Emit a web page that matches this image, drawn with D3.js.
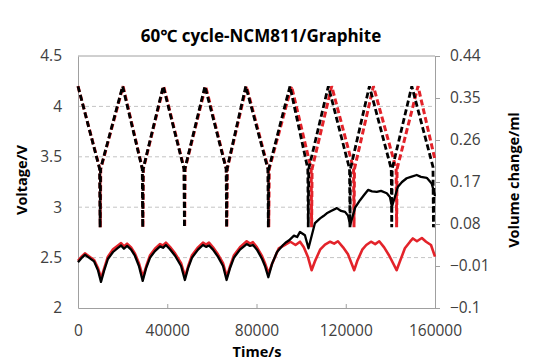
<!DOCTYPE html>
<html>
<head>
<meta charset="utf-8">
<script src="https://cdn.jsdelivr.net/npm/d3@7"></script>
<style>
    body { margin: 0; background: #fff; }
    text { font-family: "Open Sans", "Noto Sans", sans-serif; }
</style>
</head>
<body>
<svg width="535" height="363"></svg>
<script>
    // voltage (left axis), [time s, V]
    var voltBlack = [
        [0, 4.2], [9700, 3.38], [9900, 2.8], [10100, 3.38],
        [20000, 4.2], [28800, 3.38], [29000, 2.8], [29200, 3.38],
        [38200, 4.2], [47500, 3.38], [47700, 2.8], [47900, 3.38],
        [56900, 4.2], [66400, 3.38], [66600, 2.8], [66800, 3.38],
        [75200, 4.2], [85100, 3.38], [85300, 2.8], [85500, 3.38],
        [95000, 4.2], [103000, 3.38], [103200, 2.8], [103400, 3.38],
        [112200, 4.2], [121700, 3.38], [121900, 2.8], [122100, 3.38],
        [130600, 4.2], [140400, 3.38], [140600, 2.8], [140800, 3.38],
        [149600, 4.2], [159100, 3.4], [159300, 2.8], [159500, 3.2]
    ];
    var voltRed = [
        [0, 4.2], [9800, 3.38], [10000, 2.8], [10200, 3.38],
        [20200, 4.2], [28900, 3.38], [29100, 2.8], [29300, 3.38],
        [38400, 4.2], [47600, 3.38], [47800, 2.8], [48000, 3.38],
        [57200, 4.2], [66500, 3.38], [66700, 2.8], [66900, 3.38],
        [75500, 4.2], [85300, 3.38], [85500, 2.8], [85700, 3.38],
        [95700, 4.2], [104500, 3.38], [104700, 2.8], [104900, 3.38],
        [113700, 4.2], [123500, 3.38], [123700, 2.8], [123900, 3.38],
        [132400, 4.2], [142600, 3.38], [142800, 2.8], [143000, 3.38],
        [152400, 4.2], [160000, 3.47]
    ];

    // volume change (right axis), [time s, ml]
    var volBlack = [
        [0, -0.002], [1800, 0.008], [3100, 0.014], [4900, 0.008], [7200, 0.0],
        [9000, -0.02], [10300, -0.044], [11700, -0.02], [13400, 0.005], [15700, 0.02],
        [17900, 0.029], [19300, 0.034], [20600, 0.027], [22000, 0.033], [23800, 0.025],
        [25500, 0.012], [27300, -0.01], [29000, -0.042], [30500, -0.015], [32300, 0.008],
        [34500, 0.022], [36800, 0.032], [38100, 0.029], [39400, 0.035], [41200, 0.026],
        [43500, 0.012], [46200, -0.01], [47900, -0.04], [49300, -0.015], [51100, 0.008],
        [53800, 0.025], [56000, 0.035], [57400, 0.031], [58700, 0.034], [60500, 0.025],
        [62700, 0.01], [65000, -0.01], [66600, -0.04], [68100, -0.015], [69900, 0.008],
        [72600, 0.025], [75600, 0.037], [77100, 0.033], [78400, 0.035], [80200, 0.025],
        [82500, 0.005], [83800, -0.01], [85300, -0.034], [87000, -0.005], [89200, 0.02],
        [91900, 0.035], [93300, 0.041], [94600, 0.045], [96800, 0.055], [98200, 0.052], [99500, 0.063], [101700, 0.056],
        [103300, 0.028], [106200, 0.082], [108500, 0.092], [110000, 0.097], [111500, 0.103], [113400, 0.108],
        [116000, 0.114], [117900, 0.108], [119700, 0.106], [121000, 0.098], [122000, 0.078],
        [124200, 0.115], [126400, 0.131], [128200, 0.142], [130000, 0.153], [131800, 0.15],
        [133900, 0.149], [135800, 0.151], [138400, 0.146], [139800, 0.138], [140700, 0.117],
        [143400, 0.16], [145200, 0.17], [147300, 0.178], [149200, 0.181], [151800, 0.185],
        [153700, 0.181], [156300, 0.179], [158500, 0.167], [159500, 0.15], [160000, 0.14]
    ];
    var volRed = [
        [0, 0.001], [1800, 0.011], [3100, 0.017], [4900, 0.011], [7200, 0.003],
        [9000, -0.015], [10400, -0.036], [11800, -0.014], [13400, 0.01], [15700, 0.026],
        [17900, 0.034], [19300, 0.039], [20600, 0.032], [22000, 0.038], [23800, 0.03],
        [25500, 0.017], [27300, -0.004], [29100, -0.034], [30600, -0.01], [32300, 0.013],
        [34500, 0.027], [36800, 0.037], [38100, 0.034], [39400, 0.04], [41200, 0.031],
        [43500, 0.017], [46200, -0.004], [48000, -0.033], [49400, -0.01], [51100, 0.013],
        [53800, 0.03], [56000, 0.04], [57400, 0.036], [58700, 0.04], [60500, 0.03],
        [62700, 0.015], [65000, -0.004], [66700, -0.033], [68200, -0.01], [69900, 0.013],
        [72600, 0.03], [75600, 0.043], [77100, 0.038], [78400, 0.041], [80200, 0.03],
        [82500, 0.011], [83800, -0.004], [85400, -0.026], [87000, -0.005], [90000, 0.028],
        [92600, 0.035], [95200, 0.042], [97500, 0.035], [99500, 0.042], [101200, 0.03],
        [103000, 0.01], [104700, -0.019], [106200, 0.0], [108500, 0.025], [110700, 0.036],
        [113000, 0.042], [114800, 0.038], [116500, 0.043], [118800, 0.03], [121000, 0.015],
        [123800, -0.019], [125100, 0.0], [127400, 0.025], [129200, 0.035], [131300, 0.042],
        [133200, 0.037], [135000, 0.043], [137200, 0.03], [139500, 0.012], [142800, -0.019],
        [144300, 0.0], [146500, 0.028], [148800, 0.042], [150100, 0.049], [151900, 0.043],
        [154100, 0.05], [156000, 0.042], [158200, 0.035], [160000, 0.01]
    ];

    var voltTicks = [2, 2.5, 3, 3.5, 4, 4.5];
    var volTicks = [-0.1, -0.01, 0.08, 0.17, 0.26, 0.35, 0.44];
    var timeTicks = [0, 40000, 80000, 120000, 160000];

    var svg = d3.select("svg");
    var plotLeft = 78, plotRight = 435, plotTop = 56, plotBottom = 308;
    var red = "#e3232a", axisColor = "#a0a0a0";

    var x = d3.scaleLinear().domain([0, 160000]).range([plotLeft, plotRight]);
    var yV = d3.scaleLinear().domain([2, 4.5]).range([plotBottom, plotTop]);
    var yVol = d3.scaleLinear().domain([-0.1, 0.44]).range([plotBottom, plotTop]);

    // gridlines
    svg.append("g").selectAll("line")
        .data(voltTicks.filter(function (d) { return d > 2 && d < 4.5; }))
        .enter().append("line")
        .attr("x1", plotLeft).attr("x2", plotRight)
        .attr("y1", function (d) { return yV(d); })
        .attr("y2", function (d) { return yV(d); })
        .attr("stroke", "#c4c4c4").attr("stroke-width", 1)
        .attr("stroke-dasharray", "4,3");

    // top border
    svg.append("line")
        .attr("x1", plotLeft).attr("x2", plotRight).attr("y1", plotTop).attr("y2", plotTop)
        .attr("stroke", axisColor).attr("stroke-width", 1);

    function styleAxis(g) {
        g.select(".domain").attr("stroke", axisColor);
        g.selectAll(".tick line").attr("stroke", axisColor);
        g.selectAll("text").attr("fill", "#404040")
            .style("font-size", "15.5px").style("font-family", "'Open Sans', sans-serif");
    }

    svg.append("g").attr("transform", "translate(" + plotLeft + ",0)")
        .call(d3.axisLeft(yV).tickValues(voltTicks).tickSize(0).tickPadding(16)
            .tickFormat(d3.format("")))
        .call(styleAxis);

    svg.append("g").attr("transform", "translate(" + plotRight + ",0)")
        .call(d3.axisRight(yVol).tickValues(volTicks).tickSize(5).tickSizeOuter(0).tickPadding(10)
            .tickFormat(d3.format("")))
        .call(styleAxis);

    svg.append("g").attr("transform", "translate(0," + plotBottom + ")")
        .call(d3.axisBottom(x).tickValues(timeTicks).tickSize(-4).tickSizeOuter(0).tickPadding(17)
            .tickFormat(d3.format("d")))
        .call(styleAxis);

    var lineV = d3.line()
        .x(function (d) { return x(d[0]); })
        .y(function (d) { return yV(d[1]); });
    var lineVol = d3.line()
        .x(function (d) { return x(d[0]); })
        .y(function (d) { return yVol(d[1]); });

    svg.append("path").datum(voltRed).attr("d", lineV)
        .attr("fill", "none").attr("stroke", red).attr("stroke-width", 3)
        .attr("stroke-dasharray", "6,3");
    svg.append("path").datum(voltBlack).attr("d", lineV)
        .attr("fill", "none").attr("stroke", "#000").attr("stroke-width", 2.8)
        .attr("stroke-dasharray", "6,3");
    svg.append("path").datum(volRed).attr("d", lineVol)
        .attr("fill", "none").attr("stroke", red).attr("stroke-width", 2.6)
        .attr("stroke-linejoin", "round");
    svg.append("path").datum(volBlack).attr("d", lineVol)
        .attr("fill", "none").attr("stroke", "#000").attr("stroke-width", 2.3)
        .attr("stroke-linejoin", "round");

    // titles
    svg.append("text").attr("x", 261).attr("y", 42).attr("text-anchor", "middle")
        .style("font-size", "17px").style("font-weight", "bold")
        .text("60℃ cycle-NCM811/Graphite");
    svg.append("text").attr("x", 257).attr("y", 357).attr("text-anchor", "middle")
        .style("font-size", "14.5px").style("font-weight", "bold")
        .text("Time/s");
    svg.append("text").attr("transform", "translate(27,180) rotate(-90)")
        .attr("text-anchor", "middle")
        .style("font-size", "14.5px").style("font-weight", "bold")
        .text("Voltage/V");
    svg.append("text").attr("transform", "translate(519,180) rotate(-90)")
        .attr("text-anchor", "middle")
        .style("font-size", "14.5px").style("font-weight", "bold")
        .text("Volume change/ml");
</script>
</body>
</html>
